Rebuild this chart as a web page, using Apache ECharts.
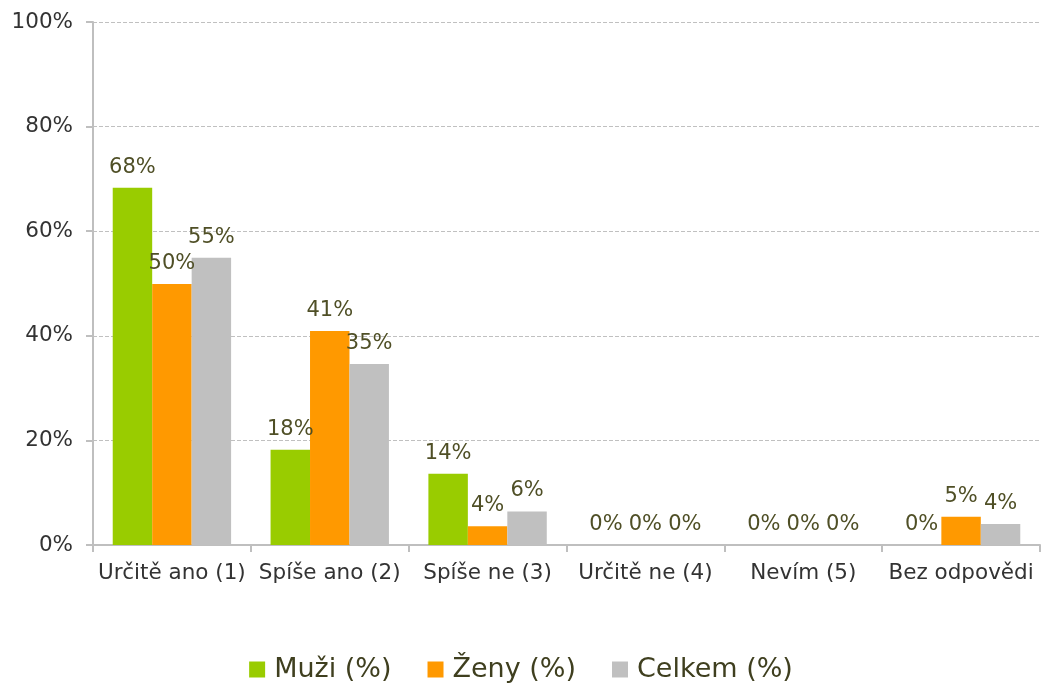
<!DOCTYPE html>
<html lang="cs">
<head>
    <meta charset="UTF-8">
    <title>Graf</title>
    <style>
        html, body { margin: 0; padding: 0; background: #ffffff; }
        #main { width: 1042px; height: 692px; }
    </style>
</head>
<body>
<div id="main"></div>
<script src="https://cdn.jsdelivr.net/npm/echarts@6/dist/echarts.min.js"></script>
<script type="text/javascript">
    // data
    var categories = ['Určitě ano (1)', 'Spíše ano (2)', 'Spíše ne (3)', 'Určitě ne (4)', 'Nevím (5)', 'Bez odpovědi'];
    var muzi = [68.3, 18.2, 13.6, 0, 0, 0];
    var zeny = [49.9, 40.9, 3.6, 0, 0, 5.4];
    var celkem = [54.9, 34.6, 6.4, 0, 0, 4.0];
    var seriesNames = ['Muži (%)', 'Ženy (%)', 'Celkem (%)'];

    var myChart = echarts.init(document.getElementById('main'));

    var labelStyle = {
        show: true,
        position: 'top',
        distance: 10,
        color: '#4f4f26',
        fontSize: 21,
        fontFamily: 'DejaVu Sans',
        formatter: function (p) {
            return Math.round(p.value) + '%';
        }
    };

    function bar(name, data) {
        return {
            name: name,
            type: 'bar',
            data: data,
            barGap: 0,
            barCategoryGap: '25%',
            label: labelStyle
        };
    }

    myChart.setOption({
        animation: false,
        backgroundColor: '#ffffff',
        color: ['#99cc00', '#ff9900', '#c0c0c0'],
        textStyle: {fontFamily: 'DejaVu Sans'},
        grid: {
            left: 93,
            right: 2,
            top: 22,
            bottom: 147
        },
        legend: {
            bottom: 4,
            left: 'center',
            itemWidth: 16,
            itemHeight: 16,
            itemGap: 36,
            icon: 'rect',
            textStyle: {
                color: '#3f3f1f',
                fontSize: 27,
                padding: [0, 0, 0, 4],
                fontFamily: 'DejaVu Sans'
            },
            data: seriesNames
        },
        xAxis: {
            type: 'category',
            data: categories,
            axisLine: {lineStyle: {color: '#bfbfbf', width: 2}},
            axisTick: {show: true, length: 7, lineStyle: {color: '#bfbfbf', width: 2}},
            axisLabel: {
                color: '#333333',
                fontSize: 21.5,
                margin: 17,
                interval: 0,
                fontFamily: 'DejaVu Sans'
            }
        },
        yAxis: {
            type: 'value',
            min: 0,
            max: 100,
            interval: 20,
            axisLine: {show: true, lineStyle: {color: '#bfbfbf', width: 2}},
            axisTick: {show: true, length: 7, lineStyle: {color: '#bfbfbf', width: 2}},
            axisLabel: {
                formatter: '{value}%',
                color: '#333333',
                fontSize: 21.5,
                margin: 20,
                fontFamily: 'DejaVu Sans'
            },
            splitLine: {lineStyle: {color: '#c0c0c0', type: 'dashed', width: 1}}
        },
        series: [
            bar(seriesNames[0], muzi),
            bar(seriesNames[1], zeny),
            bar(seriesNames[2], celkem)
        ]
    });
</script>
</body>
</html>
